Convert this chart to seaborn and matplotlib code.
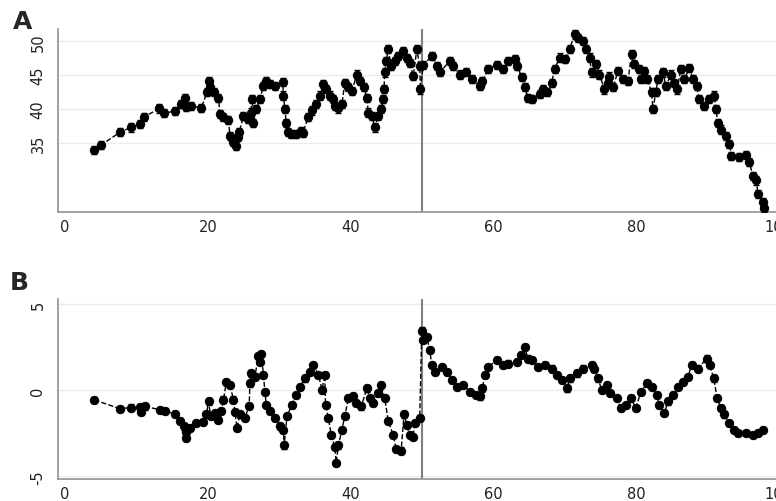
import matplotlib
matplotlib.use("Agg")
import matplotlib.pyplot as plt
import seaborn as sns

# Panel A: valores
a_x = [4.1, 5.1, 7.7, 9.2, 10.5, 11.0, 13.2, 13.8, 15.4, 16.3, 16.8, 17.0, 17.7, 19.1, 19.9,
       20.1, 20.3, 20.8, 21.5, 21.7, 22.2, 22.9, 23.1, 23.5, 24.0, 24.3, 24.4, 25.0, 25.7, 26.0,
       26.2, 26.4, 26.8, 27.3, 27.8, 28.2, 28.7, 29.4, 30.5, 30.6, 30.8, 31.0, 31.3, 31.7, 32.4,
       33.1, 33.3, 34.1, 34.6, 35.2, 35.7, 36.2, 36.6, 37.1, 37.6, 37.8, 38.3, 38.8, 39.2, 39.7,
       40.2, 40.9, 41.4, 41.9, 42.3, 42.5, 43.0, 43.4, 43.9, 44.3, 44.6, 44.7, 44.8, 45.0, 45.3,
       45.7, 46.2, 46.7, 47.4, 47.9, 48.3, 48.8, 49.3, 49.7, 49.8, 50.2, 51.4, 52.1, 52.6, 53.9,
       54.3, 55.3, 56.2, 57.0, 58.1, 58.5, 59.3, 60.5, 61.4, 62.1, 63.0, 63.4, 64.0, 64.4, 64.9,
       65.5, 66.5, 67.0, 67.6, 68.2, 68.6, 69.3, 70.0, 70.7, 71.4, 71.9, 72.6, 73.0, 73.5, 73.8,
       74.4, 74.9, 75.6, 76.1, 76.3, 76.8, 77.5, 78.2, 78.9, 79.4, 79.8, 80.5, 80.7, 81.2, 81.6,
       82.2, 82.4, 82.8, 83.1, 83.8, 84.2, 84.9, 85.4, 85.8, 86.3, 86.8, 87.5, 88.0, 88.5, 88.9,
       89.6, 90.3, 91.0, 91.2, 91.5, 91.9, 92.6, 93.1, 93.4, 94.5, 95.5, 95.9, 96.4, 96.9, 97.1,
       97.8, 98.0]
a_y = [34.0, 34.75, 36.6, 37.3, 37.8, 38.8, 40.1, 39.4, 39.7, 40.7, 41.7, 40.3, 40.5, 40.2, 42.5,
       44.2, 43.2, 42.5, 41.7, 39.3, 38.8, 38.4, 36.1, 35.1, 34.6, 35.9, 36.6, 39.0, 38.5, 39.5,
       41.5, 38.0, 40.0, 41.5, 43.4, 44.2, 43.7, 43.4, 44.0, 42.0, 40.0, 38.0, 36.6, 36.3, 36.3,
       36.8, 36.5, 38.8, 39.8, 40.7, 42.0, 43.7, 43.0, 42.0, 41.5, 40.5, 40.1, 40.7, 43.9, 43.2,
       42.7, 45.1, 44.2, 43.2, 41.7, 39.5, 39.0, 37.3, 39.0, 40.0, 41.5, 43.0, 45.4, 47.1, 48.8,
       46.3, 47.1, 47.8, 48.6, 47.5, 46.8, 44.9, 48.8, 46.4, 42.9, 46.5, 47.8, 46.3, 45.5, 47.1,
       46.3, 45.1, 45.5, 44.4, 43.4, 44.2, 45.9, 46.5, 45.9, 47.1, 47.4, 46.3, 44.7, 43.2, 41.7,
       41.5, 42.2, 43.0, 42.5, 43.9, 45.9, 47.6, 47.4, 48.8, 51.0, 50.5, 50.0, 48.8, 47.6, 45.4,
       46.6, 45.1, 42.9, 43.9, 44.8, 43.2, 45.6, 44.4, 44.2, 48.1, 46.6, 45.9, 44.4, 45.6, 44.4,
       42.5, 40.0, 42.5, 44.4, 45.4, 43.4, 45.1, 43.9, 42.9, 45.9, 44.4, 46.1, 44.4, 43.4, 41.5,
       40.5, 41.5, 42.0, 40.0, 38.0, 37.0, 36.1, 34.9, 33.1, 33.0, 33.2, 32.2, 30.2, 29.5, 27.5,
       26.3, 25.5]

# Panel B
b_x = [4.1, 7.7, 9.2, 10.5, 10.6, 11.2, 13.3, 14.0, 15.4, 16.1, 16.6, 16.9, 17.0, 17.5, 18.4,
       19.3, 19.8, 20.1, 20.4, 21.0, 21.4, 21.9, 22.2, 22.6, 23.1, 23.6, 23.8, 24.1, 24.5, 25.2,
       25.8, 25.9, 26.1, 26.6, 27.1, 27.3, 27.5, 27.8, 28.0, 28.2, 28.7, 29.4, 30.1, 30.6, 30.7,
       31.1, 31.8, 32.4, 32.9, 33.6, 34.3, 34.8, 35.5, 36.0, 36.4, 36.5, 36.9, 37.3, 37.8, 38.0,
       38.3, 38.8, 39.2, 39.7, 40.4, 40.8, 41.5, 42.3, 42.7, 43.2, 43.9, 44.3, 44.8, 45.3, 46.0,
       46.4, 47.1, 47.5, 47.9, 48.3, 48.8, 49.0, 49.7, 50.0, 50.2, 50.7, 51.1, 51.4, 51.9, 52.8,
       53.5, 54.2, 54.9, 55.8, 56.8, 57.6, 58.1, 58.5, 58.8, 59.3, 60.5, 61.4, 62.1, 63.3, 63.9,
       64.4, 64.9, 65.5, 66.3, 67.2, 68.2, 68.9, 69.6, 70.3, 70.8, 71.7, 72.6, 73.8, 74.2, 74.7,
       75.2, 75.9, 76.4, 77.3, 77.9, 78.6, 79.3, 80.0, 80.7, 81.5, 82.2, 82.9, 83.3, 84.0, 84.5,
       85.2, 85.9, 86.6, 87.3, 87.8, 88.7, 89.9, 90.4, 90.9, 91.4, 91.9, 92.3, 93.0, 93.7, 94.3,
       95.5, 96.4, 97.1, 97.8]
b_y = [-0.56, -1.07, -1.0, -0.97, -1.26, -0.94, -1.13, -1.19, -1.38, -1.8, -2.1, -2.4, -2.76, -2.2, -1.9,
       -1.85, -1.4, -0.65, -1.5, -1.3, -1.7, -1.2, -0.54, 0.5, 0.3, -0.54, -1.26, -2.2, -1.4, -1.6,
       -0.9, 0.4, 0.98, 0.8, 2.0, 1.65, 2.1, 0.9, -0.08, -0.84, -1.2, -1.6, -2.1, -2.3, -3.2,
       -1.5, -0.84, -0.27, 0.2, 0.69, 1.07, 1.46, 0.9, 0.04, 0.9, -0.84, -1.6, -2.6, -3.3, -4.2,
       -3.2, -2.3, -1.5, -0.46, -0.36, -0.75, -0.94, 0.11, -0.46, -0.75, -0.17, 0.3, -0.46, -1.8, -2.6,
       -3.4, -3.5, -1.4, -2.0, -2.6, -2.7, -1.9, -1.6, 3.47, 2.9, 3.1, 2.35, 1.45, 1.07, 1.35,
       1.07, 0.6, 0.2, 0.3, -0.08, -0.27, -0.36, 0.11, 0.88, 1.36, 1.74, 1.45, 1.55, 1.65, 2.03,
       2.5, 1.84, 1.74, 1.36, 1.45, 1.26, 0.88, 0.6, 0.11, 0.69, 0.98, 1.26, 1.45, 1.26, 0.69,
       0.02, 0.3, -0.17, -0.46, -1.03, -0.84, -0.46, -1.03, -0.08, 0.4, 0.2, -0.27, -0.84, -1.32, -0.65,
       -0.27, 0.2, 0.5, 0.79, 1.45, 1.26, 1.84, 1.45, 0.69, -0.46, -1.03, -1.4, -1.9, -2.3, -2.5,
       -2.5, -2.6, -2.5, -2.3]

x_ticks = [0, 20, 40, 60, 80, 100]
a_ticks = [35, 40, 45, 50]
b_ticks = [-5, 0, 5]

sns.set_style("white")
plt.rcParams['font.family'] = ['DejaVu Sans']

fig = plt.figure(figsize=(7.76, 5.02), dpi=100)
axA = fig.add_axes([0.0747, 0.5757, 0.947, 0.3645])
axB = fig.add_axes([0.0747, 0.0438, 0.947, 0.3586])

gris = "#9a9a9a"

def panel(ax, xs, ys, err, yticks, ylim):
    ax.errorbar(xs, ys, yerr=err, fmt='none', ecolor='black', elinewidth=1.2, capsize=2, zorder=3)
    sns.lineplot(x=xs, y=ys, ax=ax, sort=False, estimator=None, color='black',
                 linestyle='--', linewidth=1, marker='o', markersize=6,
                 markeredgecolor='black', zorder=4)
    ax.set_xlim(-1.0, 102)
    ax.set_ylim(*ylim)
    ax.set_xticks(x_ticks)
    ax.set_yticks(yticks)
    ax.set_yticklabels([str(t) for t in yticks], rotation=90, va='center')
    for t in yticks:
        ax.axhline(t, color="#ececec", linewidth=1, zorder=0)
    ax.axvline(50, color="#808080", linewidth=1.5, zorder=2)
    for s in ['top', 'right']:
        ax.spines[s].set_visible(False)
    for s in ['left', 'bottom']:
        ax.spines[s].set_color(gris)
        ax.spines[s].set_linewidth(1.3)
    ax.tick_params(axis='both', colors='#222222', labelsize=10.5, length=4, width=1)
    ax.tick_params(axis='both', color=gris)
    ax.tick_params(axis='x', pad=1)
    ax.tick_params(axis='y', pad=5)
    ax.set_xlabel("")
    ax.set_ylabel("")

panel(axA, a_x, a_y, 0.6, a_ticks, (24.85, 51.8))
panel(axB, b_x, b_y, 0.18, b_ticks, (-5.15, 5.3))

fig.text(0.016, 1 - 22 / 502, "A", fontsize=18, fontweight='bold', va='center')
fig.text(0.013, 1 - 283 / 502, "B", fontsize=18, fontweight='bold', va='center')

fig.savefig("out.png", dpi=100)
